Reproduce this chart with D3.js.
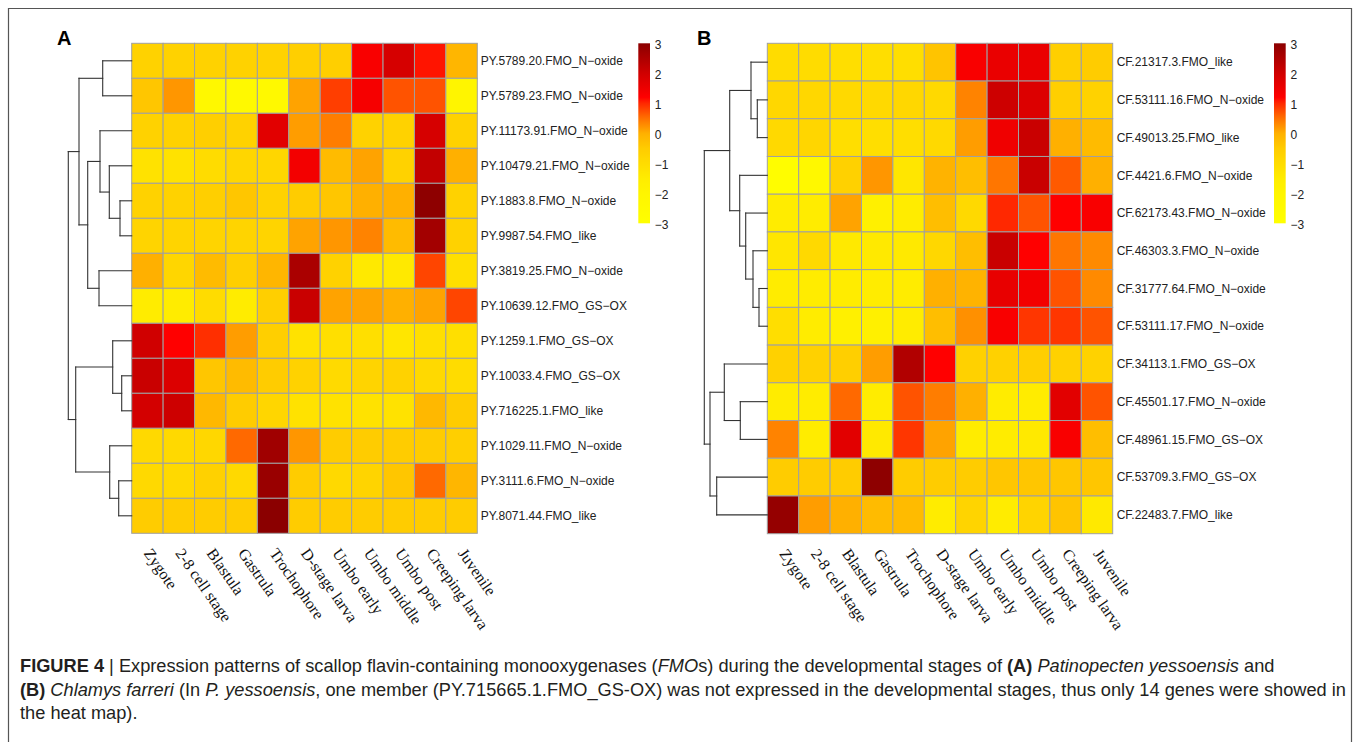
<!DOCTYPE html>
<html><head><meta charset="utf-8">
<script src="https://cdn.jsdelivr.net/npm/d3@7"></script>
<style>body{margin:0;background:#fff} svg{display:block}</style>
</head><body><svg id="c" width="1360" height="742"></svg>
<script>
// ---------------- data ----------------
const stages = ["Zygote","2-8 cell stage","Blastula","Gastrula","Trochophore","D-stage larva","Umbo early","Umbo middle","Umbo post","Creeping larva","Juvenile"];

const genesA = ["PY.5789.20.FMO_N-oxide","PY.5789.23.FMO_N-oxide","PY.11173.91.FMO_N-oxide","PY.10479.21.FMO_N-oxide","PY.1883.8.FMO_N-oxide","PY.9987.54.FMO_like","PY.3819.25.FMO_N-oxide","PY.10639.12.FMO_GS-OX","PY.1259.1.FMO_GS-OX","PY.10033.4.FMO_GS-OX","PY.716225.1.FMO_like","PY.1029.11.FMO_N-oxide","PY.3111.6.FMO_N-oxide","PY.8071.44.FMO_like"];
const valuesA = [
  [-0.7,-0.7,-0.7,-0.7,-0.7,-0.6,-0.6, 1.3, 1.9, 1.1,-0.1],
  [-0.4, 0.2,-2.3,-2.4,-2.4, 0.1, 0.85,1.35,0.7, 0.7,-2.0],
  [-0.7,-0.7,-0.6,-0.7, 1.7, 0.15,0.4,-0.7,-0.7, 1.9,-0.7],
  [-1.2,-1.2,-1.0,-0.8,-0.8, 1.4,-0.2, 0.1,-0.7, 2.2, 0.0],
  [-0.7,-0.7,-0.6,-0.4,-0.7,-0.5,-0.4, 0.0, 0.0, 2.95,-0.7],
  [-0.75,-0.75,-0.75,-0.75,-0.75,0.1,0.2,0.35,-0.2,2.65,-0.7],
  [ 0.0,-0.8,-0.2,-0.6,-0.1, 2.55,-0.7,-1.4,-1.4, 0.8,-1.1],
  [-1.5,-1.5,-1.0,-1.5,-0.6, 2.1, 0.1, 0.1, 0.0, 0.1, 0.8],
  [ 2.0, 1.2, 0.95,0.15,-0.6,-1.2,-1.1,-1.1,-1.3,-1.1,-1.1],
  [ 2.1, 1.8,-0.4,-0.2,-0.5,-0.7,-0.95,-0.75,-0.7,-0.9,-1.0],
  [ 1.95,2.05,-0.15,-0.5,-0.8,-1.2,-1.2,-1.2,-1.2,-0.15,-0.5],
  [-0.9,-0.9,-0.85,0.55,2.7, 0.2,-0.5,-0.5,-0.5,-0.5,-0.6],
  [-0.9,-0.9,-0.65,-0.9,2.8,-0.5,-0.9,-0.75,-0.4,0.55,-0.1],
  [-0.5,-0.5,-0.5,-0.5, 3.0,-0.5,-0.5,-0.5,-0.5,-0.5,-0.5]
];
// dendrogram: [height, left, right]; integers are row indices
const treeA = [63.4, [52.7, [29, 0, 1], [44, [31.7, 2, [22.4, 3, [11.7, 4, 5]]], [32.7, 6, 7]]],
                     [56, [19, 8, [10, 9, 10]], [22, 11, [13, 12, 13]]]];

const genesB = ["CF.21317.3.FMO_like","CF.53111.16.FMO_N-oxide","CF.49013.25.FMO_like","CF.4421.6.FMO_N-oxide","CF.62173.43.FMO_N-oxide","CF.46303.3.FMO_N-oxide","CF.31777.64.FMO_N-oxide","CF.53111.17.FMO_N-oxide","CF.34113.1.FMO_GS-OX","CF.45501.17.FMO_N-oxide","CF.48961.15.FMO_GS-OX","CF.53709.3.FMO_GS-OX","CF.22483.7.FMO_like"];
const valuesB = [
  [-1.0,-1.0,-1.05,-1.05,-1.05,-0.35,1.3, 1.55,1.55,-0.6,-0.5],
  [-0.85,-0.85,-0.9,-0.9,-0.85,-0.9,0.35,2.05,1.8,-0.6,-0.7],
  [-0.9,-0.8,-1.05,-1.05,-1.05,-0.9,0.15,1.45,2.1, 0.0,-0.2],
  [-2.8,-2.3,-0.65,0.2,-1.3,-0.05,-0.25,0.45,2.1, 0.65,0.0],
  [-1.5,-1.5, 0.1,-1.7,-1.5,-0.25,-0.9, 1.0, 0.7, 1.2, 1.3],
  [-1.3,-0.9,-1.4,-1.4,-1.4,-0.85,-0.25,2.1,1.2, 0.45,0.3],
  [-1.5,-1.5,-1.5,-1.5,-1.5, 0.0,-0.05,1.6, 1.4, 0.7, 0.3],
  [-1.05,-1.5,-1.7,-1.7,-1.5,-0.25,0.25,1.3,0.9, 0.9, 0.7],
  [-0.65,-0.65,-0.6,0.15,2.45,1.2,-0.65,-0.65,-0.6,-0.65,-0.7],
  [-1.5,-1.5, 0.55,-1.5,0.7, 0.4, 0.0,-1.5,-1.5, 1.7, 0.7],
  [ 0.35,-1.5,1.7,-1.4, 0.9, 0.1,-1.5,-1.5,-1.4, 1.3,-0.25],
  [-0.5,-0.5,-0.5, 2.95,-0.5,-0.5,-0.5,-0.4,-0.4,-0.4,-0.4],
  [ 2.85,0.15,0.0,-0.2,-0.2,-1.5,-0.75,-1.5,-0.75,-0.35,-1.4]
];
const treeB = [63, [37.6, [16.3, 0, [10, 1, 2]], [27.6, 3, [21.6, 4, [14.3, 5, [8.3, 6, 7]]]]],
                   [57.3, [43, 8, [27, 9, 10]], [50.6, 11, 12]]];

const legendTicks = [3, 2, 1, 0, -1, -2, -3];

const captionLines = [
  [["FIGURE 4", "b"], [" | Expression patterns of scallop flavin-containing monooxygenases (", ""], ["FMO", "i"], ["s) during the developmental stages of ", ""], ["(A)", "b"], [" ", ""], ["Patinopecten yessoensis", "i"], [" and", ""]],
  [["(B)", "b"], [" ", ""], ["Chlamys farreri", "i"], [" (In ", ""], ["P. yessoensis", "i"], [", one member (PY.715665.1.FMO_GS-OX) was not expressed in the developmental stages, thus only 14 genes were showed in", ""]],
  [["the heat map).", ""]]
];

// ---------------- styles ----------------
const colorStops = [-3, -2, -1.5, -1, -0.5, 0, 0.5, 1, 1.2, 2, 3];
const colorRange = ["#FFFF00","#FFF500","#FFEC00","#FFDC00","#FFCC00","#FFB000","#FF7000","#FF2800","#FF0000","#D00000","#8B0000"];
const color = d3.scaleLinear().domain(colorStops).range(colorRange).clamp(true);

const svg = d3.select("#c");
const SANS = "'Liberation Sans', Arial, Helvetica, sans-serif";
const SERIF = "'Liberation Serif', 'Times New Roman', serif";

// frame
svg.append("path")
  .attr("d", "M8.5,760 L8.5,8.5 L1351.5,8.5 L1351.5,760")
  .attr("fill", "none").attr("stroke", "#555").attr("stroke-width", 1.2);

const defs = svg.append("defs");

function toHier(node) {
  if (typeof node === "number") return { leaf: node };
  return { h: node[0], children: [toHier(node[1]), toHier(node[2])] };
}

function drawPanel(p) {
  const g = svg.append("g");
  const x = d3.scaleBand().domain(stages).range([p.left, p.right]);
  const y = d3.scaleBand().domain(p.genes).range([p.top, p.bottom]);

  // cells
  p.values.forEach((row, i) => {
    g.selectAll(null).data(row).join("rect")
      .attr("x", (d, j) => x(stages[j]))
      .attr("y", y(p.genes[i]))
      .attr("width", x.bandwidth())
      .attr("height", y.bandwidth())
      .attr("fill", d => color(d))
      .attr("stroke", "#A0A0A0").attr("stroke-width", 1);
  });

  // row labels
  g.selectAll(null).data(p.genes).join("text")
    .attr("x", p.right + p.labelGap)
    .attr("y", d => y(d) + y.bandwidth() / 2)
    .attr("dy", "0.35em")
    .attr("font-family", SANS).attr("font-size", 12).attr("fill", "#222")
    .text(d => d.replace(/-/g, "\u2212"));

  // column labels
  g.selectAll(null).data(stages).join("text")
    .attr("transform", d => `translate(${x(d) + x.bandwidth() / 2},${p.bottom + 17}) rotate(55)`)
    .attr("dy", "0.32em")
    .attr("font-family", SERIF).attr("font-size", 16).attr("fill", "#111")
    .text(d => d);

  // dendrogram
  const root = d3.hierarchy(toHier(p.tree));
  const hx = d3.scaleLinear().domain([0, p.tree[0]]).range([p.left, p.left - p.treeWidth]);
  root.eachAfter(n => {
    if (!n.children) { n.yy = y(p.genes[n.data.leaf]) + y.bandwidth() / 2; n.hh = 0; }
    else { n.yy = (n.children[0].yy + n.children[1].yy) / 2; n.hh = n.data.h; }
  });
  const lines = [];
  root.each(n => {
    if (!n.children) return;
    const xn = hx(n.hh);
    lines.push([xn, n.children[0].yy, xn, n.children[1].yy]);
    n.children.forEach(c => lines.push([xn, c.yy, hx(c.hh), c.yy]));
  });
  g.selectAll(null).data(lines).join("line")
    .attr("x1", d => d[0]).attr("y1", d => d[1]).attr("x2", d => d[2]).attr("y2", d => d[3])
    .attr("stroke", "#333").attr("stroke-width", 1.1).attr("stroke-linecap", "square");

  // legend
  const ly = d3.scaleLinear().domain([-3, 3]).range([p.legendBottom, p.legendTop]);
  const gid = "grad" + p.id;
  const grad = defs.append("linearGradient").attr("id", gid)
    .attr("x1", 0).attr("y1", 1).attr("x2", 0).attr("y2", 0);
  d3.range(0, 61).forEach(k => {
    const v = -3 + k * 0.1;
    grad.append("stop").attr("offset", (v + 3) / 6).attr("stop-color", color(v));
  });
  g.append("rect")
    .attr("x", p.legendX).attr("y", ly(3))
    .attr("width", 11.7).attr("height", ly(-3) - ly(3))
    .attr("fill", `url(#${gid})`);
  g.selectAll(null).data(legendTicks).join("text")
    .attr("x", p.legendX + 16.5)
    .attr("y", d => ly(d) + 1)
    .attr("dy", "0.35em")
    .attr("font-family", SANS).attr("font-size", 12).attr("fill", "#222")
    .text(d => d < 0 ? "\u2212" + Math.abs(d) : String(d));

  // panel letter
  svg.append("text").attr("x", p.letterX).attr("y", 45)
    .attr("font-family", SANS).attr("font-weight", "bold").attr("font-size", 20)
    .attr("fill", "#000").text(p.id);
}

drawPanel({ id: "A", genes: genesA, values: valuesA, tree: treeA,
  left: 131.7, right: 477.3, top: 43.3, bottom: 533.3, treeWidth: 63.4, labelGap: 3.4,
  legendX: 638.3, legendTop: 43.3, legendBottom: 223.3, letterX: 57 });
drawPanel({ id: "B", genes: genesB, values: valuesB, tree: treeB,
  left: 767.3, right: 1112.7, top: 43.3, bottom: 533.7, treeWidth: 63, labelGap: 4,
  legendX: 1274, legendTop: 43.3, legendBottom: 223.3, letterX: 697 });

// caption
const cap = svg.append("g");
const capTexts = captionLines.map((line, i) => {
  const t = cap.append("text").attr("x", 20).attr("y", 672 + i * 23.5)
    .attr("font-family", SANS).attr("font-size", 16).attr("fill", "#231F20");
  line.forEach(([s, st]) => {
    t.append("tspan").text(s)
      .attr("font-weight", st === "b" ? "bold" : null)
      .attr("font-style", st === "i" ? "italic" : null);
  });
  return t;
});
// fit the second (longest) line to the reference width
const w2 = capTexts[1].node().getComputedTextLength();
const fs = 16 * 1327 / w2;
capTexts.forEach(t => t.attr("font-size", fs));
</script></body></html>
